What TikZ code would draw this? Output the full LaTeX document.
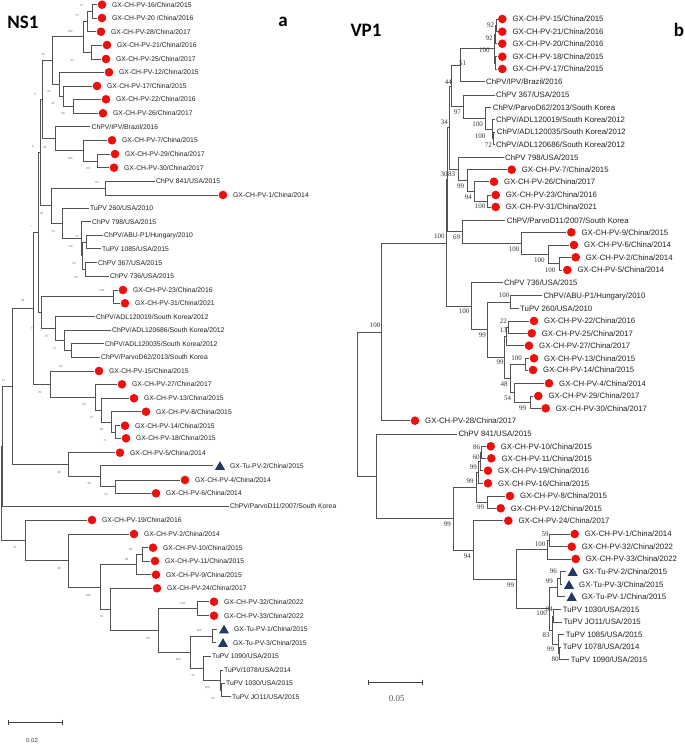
\documentclass[tikz,border=0pt]{standalone}
\usepackage{fontspec}
\newfontfamily\arialfont{Liberation Sans}
\newfontfamily\timesfont{Liberation Serif}
\newfontfamily\calibrifont{Carlito}
\usepackage{tikz}
\usetikzlibrary{shapes.geometric,arrows.meta}
\definecolor{isolred}{RGB}{237,14,14}
\definecolor{turkeyblue}{RGB}{31,56,100}

\begin{document}
\begin{tikzpicture}[
    x=1pt, y=-1pt,
    branch/.style={draw=black!68, line width=0.8pt},
    mark dot/.style={circle, fill=isolred, inner sep=0pt, minimum size=8.6pt},
    mark tri/.style={regular polygon, regular polygon sides=3, fill=turkeyblue,
        inner sep=0pt, minimum size=11.5pt, yshift=-1.2pt},
    panel/.style={font=\calibrifont\bfseries\fontsize{19}{22}\selectfont, inner sep=0pt},
    scale bar/.style={draw=black!75, line width=0.9pt, {Bar[width=5pt]}-{Bar[width=5pt]}},
]

    \useasboundingbox (0,0) rectangle (685,744);

    % a leaf: tip of the branch, its marker, its name
    \def\dotleaf#1#2#3{\path (#2) coordinate (#1) ++(5,0) node[mark dot] (#1m) {}
        ++(10,0) node[leaf text] (#1t) {#3};}
    \def\trileaf#1#2#3{\path (#2) coordinate (#1) ++(7,0) node[mark tri] (#1m) {}
        ++(10,0) node[leaf text] (#1t) {#3};}
    \def\plainleaf#1#2#3{\path (#2) coordinate (#1) ++(1.5,0) node[leaf text] (#1t) {#3};}

    % =============================================================
    % a: NS1 tree
    % =============================================================
    \begin{scope}[
        leaf text/.style={anchor=west, inner sep=0pt, text height=4.9pt, text depth=0pt,
            text=black!88, font=\arialfont\fontsize{6.8}{8}\selectfont},
        bootA/.style={inner sep=0pt, text=black!55, font=\arialfont\fontsize{3}{3.5}\selectfont},
    ]
        \node[panel] (ns1) at (23,22) {NS1};
        \node[panel] (pa) at (283,22) {a};

        \dotleaf{a1}{97,4.7}{GX-CH-PV-16/China/2015}
        \dotleaf{a2}{97,18}{GX-CH-PV-20 /China/2016}
        \dotleaf{a3}{96,31.7}{GX-CH-PV-28/China/2017}
        \dotleaf{a4}{102,45}{GX-CH-PV-21/China/2016}
        \dotleaf{a5}{101,59}{GX-CH-PV-25/China/2017}
        \dotleaf{a6}{104,72.3}{GX-CH-PV-12/China/2015}
        \dotleaf{a7}{92,86}{GX-CH-PV-17/China/2015}
        \dotleaf{a8}{101,99.3}{GX-CH-PV-22/China/2016}
        \dotleaf{a9}{98,113.3}{GX-CH-PV-26/China/2017}
        \plainleaf{a10}{90,126.7}{ChPV/IPV/Brazil/2016}
        \dotleaf{a11}{107,140.3}{GX-CH-PV-7/China/2015}
        \dotleaf{a12}{110,154}{GX-CH-PV-29/China/2017}
        \dotleaf{a13}{109,167.7}{GX-CH-PV-30/China/2017}
        \plainleaf{a14}{154.5,181}{ChPV 841/USA/2015}
        \dotleaf{a15}{218,195}{GX-CH-PV-1/China/2014}
        \plainleaf{a16}{88.5,208}{TuPV 260/USA/2010}
        \plainleaf{a17}{90.5,221.7}{ChPV 798/USA/2015}
        \plainleaf{a18}{102.5,235.3}{ChPV/ABU-P1/Hungary/2010}
        \plainleaf{a19}{100.5,248.7}{TuPV 1085/USA/2015}
        \plainleaf{a20}{96.5,262.7}{ChPV 367/USA/2015}
        \plainleaf{a21}{108.5,276}{ChPV 736/USA/2015}
        \dotleaf{a22}{118,290}{GX-CH-PV-23/China/2016}
        \dotleaf{a23}{120,303.3}{GX-CH-PV-31/China/2021}
        \plainleaf{a24}{94.5,316.7}{ChPV/ADL120019/South Korea/2012}
        \plainleaf{a25}{110.5,330}{ChPV/ADL120686/South Korea/2012}
        \plainleaf{a26}{103.5,343.7}{ChPV/ADL120035/South Korea/2012}
        \plainleaf{a27}{99.5,357.3}{ChPV/ParvoD62/2013/South Korea}
        \dotleaf{a28}{94,371}{GX-CH-PV-15/China/2015}
        \dotleaf{a29}{117,384.3}{GX-CH-PV-27/China/2017}
        \dotleaf{a30}{129,398.3}{GX-CH-PV-13/China/2015}
        \dotleaf{a31}{141,411.7}{GX-CH-PV-8/China/2015}
        \dotleaf{a32}{120,425.7}{GX-CH-PV-14/China/2015}
        \dotleaf{a33}{121,438.3}{GX-CH-PV-18/China/2015}
        \dotleaf{a34}{115,452.7}{GX-CH-PV-5/China/2014}
        \trileaf{a35}{213,465.7}{GX-Tu-PV-2/China/2015}
        \dotleaf{a36}{180,480}{GX-CH-PV-4/China/2014}
        \dotleaf{a37}{151,493.3}{GX-CH-PV-6/China/2014}
        \plainleaf{a38}{228.5,506}{ChPV/ParvoD11/2007/South Korea}
        \dotleaf{a39}{87,520}{GX-CH-PV-19/China/2016}
        \dotleaf{a40}{129,534}{GX-CH-PV-2/China/2014}
        \dotleaf{a41}{148,547.7}{GX-CH-PV-10/China/2015}
        \dotleaf{a42}{150,561}{GX-CH-PV-11/China/2015}
        \dotleaf{a43}{151,574.7}{GX-CH-PV-9/China/2015}
        \dotleaf{a44}{152,588.3}{GX-CH-PV-24/China/2017}
        \dotleaf{a45}{209,601.7}{GX-CH-PV-32/China/2022}
        \dotleaf{a46}{209,615.7}{GX-CH-PV-33/China/2022}
        \trileaf{a47}{217,629.3}{GX-Tu-PV-1/China/2015}
        \trileaf{a48}{216,642.7}{GX-Tu-PV-3/China/2015}
        \plainleaf{a49}{210.5,656}{TuPV 1090/USA/2015}
        \plainleaf{a50}{222.5,670}{TuPV/1078/USA/2014}
        \plainleaf{a51}{224.5,683.3}{TuPV 1030/USA/2015}
        \plainleaf{a52}{230.5,696.7}{TuPV JO11/USA/2015}

        % inner nodes of the tree
        \coordinate (p1) at (92,11.35);   \coordinate (p2) at (87,21.5);
        \coordinate (p3) at (91,52);      \coordinate (p4) at (83,36.8);
        \coordinate (p5) at (73,106.3);   \coordinate (p6) at (63,96.2);
        \coordinate (p7) at (59,84.2);    \coordinate (p8) at (52,60.5);
        \coordinate (p9) at (97,160.9);   \coordinate (p10) at (83,150.6);
        \coordinate (p11) at (55,138.7);  \coordinate (p12) at (42,99.6);
        \coordinate (p13) at (105,188);   \coordinate (p14) at (85.5,269.4);
        \coordinate (p15) at (86,242);    \coordinate (p16) at (82.7,255.7);
        \coordinate (p17) at (81,238.7);  \coordinate (p18) at (62,223.4);
        \coordinate (p19) at (51.7,205.7); \coordinate (p20) at (40,152.7);
        \coordinate (p21) at (113,296.7); \coordinate (p22) at (71,350.5);
        \coordinate (p23) at (64,340.3);  \coordinate (p24) at (55,328.5);
        \coordinate (p25) at (41,312.6);  \coordinate (p26) at (38.5,232.7);
        \coordinate (p27) at (115,432);   \coordinate (p28) at (111,421.9);
        \coordinate (p29) at (101,410.1); \coordinate (p30) at (95,397.2);
        \coordinate (p31) at (50,384.1);  \coordinate (p32) at (33,308.4);
        \coordinate (p33) at (115,486.7); \coordinate (p34) at (100,476.2);
        \coordinate (p35) at (68,464.5);  \coordinate (p36) at (12,386.5);
        \coordinate (p37) at (2.7,446.3); \coordinate (p38) at (142,554.4);
        \coordinate (p39) at (136,564.5); \coordinate (p40) at (197,608.7);
        \coordinate (p41) at (212,636);   \coordinate (p42) at (221.5,690);
        \coordinate (p43) at (220,680);   \coordinate (p44) at (203,668);
        \coordinate (p45) at (190,652);   \coordinate (p46) at (158,630.4);
        \coordinate (p47) at (110,609.4); \coordinate (p48) at (100,587);
        \coordinate (p49) at (68,560.5);  \coordinate (p50) at (25,540.3);
        \coordinate (p51) at (1.7,493.3);

        \draw[branch] (p1) |- (a1) (p1) |- (a2) (p2) |- (p1) (p2) |- (a3)
            (p3) |- (a4) (p3) |- (a5) (p4) |- (p2) (p4) |- (p3)
            (p5) |- (a8) (p5) |- (a9) (p6) |- (a7) (p6) |- (p5)
            (p7) |- (a6) (p7) |- (p6) (p8) |- (p4) (p8) |- (p7)
            (p9) |- (a12) (p9) |- (a13) (p10) |- (a11) (p10) |- (p9)
            (p11) |- (a10) (p11) |- (p10) (p12) |- (p8) (p12) |- (p11);
        \draw[branch] (p13) |- (a14) (p13) |- (a15) (p14) |- (a20) (p14) |- (a21)
            (p15) |- (a18) (p15) |- (a19) (p16) |- (p15) (p16) |- (p14)
            (p17) |- (a17) (p17) |- (p16) (p18) |- (a16) (p18) |- (p17)
            (p19) |- (p13) (p19) |- (p18) (p20) |- (p12) (p20) |- (p19);
        \draw[branch] (p21) |- (a22) (p21) |- (a23) (p22) |- (a26) (p22) |- (a27)
            (p23) |- (a25) (p23) |- (p22) (p24) |- (a24) (p24) |- (p23)
            (p25) |- (p21) (p25) |- (p24) (p26) |- (p20) (p26) |- (p25);
        \draw[branch] (p27) |- (a32) (p27) |- (a33) (p28) |- (a31) (p28) |- (p27)
            (p29) |- (a30) (p29) |- (p28) (p30) |- (a29) (p30) |- (p29)
            (p31) |- (a28) (p31) |- (p30) (p32) |- (p26) (p32) |- (p31)
            (p33) |- (a36) (p33) |- (a37) (p34) |- (a35) (p34) |- (p33)
            (p35) |- (a34) (p35) |- (p34) (p36) |- (p32) (p36) |- (p35)
            (p37) |- (p36) (p37) |- (a38);
        \draw[branch] (p38) |- (a41) (p38) |- (a42) (p39) |- (p38) (p39) |- (a43)
            (p40) |- (a45) (p40) |- (a46) (p41) |- (a47) (p41) |- (a48)
            (p42) |- (a51) (p42) |- (a52) (p43) |- (a50) (p43) |- (p42)
            (p44) |- (a49) (p44) |- (p43) (p45) |- (p41) (p45) |- (p44)
            (p46) |- (p40) (p46) |- (p45) (p47) |- (a44) (p47) |- (p46)
            (p48) |- (p39) (p48) |- (p47) (p49) |- (a40) (p49) |- (p48)
            (p50) |- (a39) (p50) |- (p49) (p51) |- (p37) (p51) |- (p50);

        % bootstrap values
        \node[bootA] (sa1) at (82,5) {97};      \node[bootA] (sa2) at (77,15) {75};
        \node[bootA] (sa3) at (70,31) {100};    \node[bootA] (sa4) at (72,60) {43};
        \node[bootA] (sa5) at (43,54) {30};     \node[bootA] (sa6) at (49,91) {25};
        \node[bootA] (sa7) at (53,103) {32};    \node[bootA] (sa8) at (63,113) {96};
        \node[bootA] (sa9) at (35,94) {5};      \node[bootA] (sa10) at (33,146.7) {6};
        \node[bootA] (sa11) at (45,147) {89};   \node[bootA] (sa12) at (70,158) {100};
        \node[bootA] (sa13) at (88,168) {99};   \node[bootA] (sa14) at (97,182) {63};
        \node[bootA] (sa15) at (41.7,213) {23}; \node[bootA] (sa16) at (53.3,231) {50};
        \node[bootA] (sa17) at (77.3,236.7) {47}; \node[bootA] (sa18) at (71,246) {62};
        \node[bootA] (sa19) at (74,263.3) {33}; \node[bootA] (sa20) at (76,277.3) {36};
        \node[bootA] (sa21) at (30.7,226.7) {7}; \node[bootA] (sa22) at (101.7,290.7) {100};
        \node[bootA] (sa23) at (32.3,328.3) {79}; \node[bootA] (sa24) at (46.7,336.7) {97};
        \node[bootA] (sa25) at (54.3,348.3) {71}; \node[bootA] (sa26) at (60.7,366.7) {64};
        \node[bootA] (sa27) at (22.7,300.7) {89}; \node[bootA] (sa28) at (40,392) {21};
        \node[bootA] (sa29) at (84.3,404) {96}; \node[bootA] (sa30) at (92,417) {67};
        \node[bootA] (sa31) at (101.7,429) {98}; \node[bootA] (sa32) at (105,440) {71};
        \node[bootA] (sa33) at (3.3,380) {74};  \node[bootA] (sa34) at (59.3,472.3) {99};
        \node[bootA] (sa35) at (89.3,483.3) {99}; \node[bootA] (sa36) at (106,494) {52};
        \node[bootA] (sa37) at (15,547.7) {97}; \node[bootA] (sa38) at (59.3,568.3) {99};
        \node[bootA] (sa39) at (130.7,549) {98}; \node[bootA] (sa40) at (126.7,559) {98};
        \node[bootA] (sa41) at (88.3,595) {100}; \node[bootA] (sa42) at (101.7,616.7) {55};
        \node[bootA] (sa43) at (182.7,603.3) {100}; \node[bootA] (sa44) at (148.3,638.3) {99};
        \node[bootA] (sa45) at (199.3,630) {100}; \node[bootA] (sa46) at (178.3,659.3) {100};
        \node[bootA] (sa47) at (193.3,675.7) {97}; \node[bootA] (sa48) at (207.3,687.7) {100};
        \node[bootA] (sa49) at (213.3,698.3) {81};

        % scale
        \coordinate (sbarA1) at (8,722);
        \coordinate (sbarA2) at (63,722);
        \draw[scale bar] (sbarA1) -- (sbarA2);
        \node[inner sep=0pt, text=black!75, font=\arialfont\fontsize{6}{7}\selectfont]
            (sbarAt) at (32,740) {0.02};
    \end{scope}

    % =============================================================
    % b: VP1 tree
    % =============================================================
    \begin{scope}[
        leaf text/.style={anchor=west, inner sep=0pt, text height=5.6pt, text depth=0pt,
            text=black!88, font=\arialfont\fontsize{7.8}{9}\selectfont},
        bootB/.style={inner sep=0pt, text=black!80, font=\timesfont\fontsize{7}{8}\selectfont},
    ]
        \node[panel] (vp1) at (366,30) {VP1};
        \node[panel] (pb) at (679,30) {b};

        \dotleaf{b1}{497.3,19}{GX-CH-PV-15/China/2015}
        \dotleaf{b2}{497.3,31.7}{GX-CH-PV-21/China/2016}
        \dotleaf{b3}{497.3,43.7}{GX-CH-PV-20/China/2016}
        \dotleaf{b4}{497.3,56.7}{GX-CH-PV-18/China/2015}
        \dotleaf{b5}{497.3,69}{GX-CH-PV-17/China/2015}
        \plainleaf{b6}{484.5,81.7}{ChPV/IPV/Brazil/2016}
        \plainleaf{b7}{494.5,95}{ChPV 367/USA/2015}
        \plainleaf{b8}{491.2,107.3}{ChPV/ParvoD62/2013/South Korea}
        \plainleaf{b9}{494.5,119.3}{ChPV/ADL120019/South Korea/2012}
        \plainleaf{b10}{495.2,132}{ChPV/ADL120035/South Korea/2012}
        \plainleaf{b11}{494.5,144.7}{ChPV/ADL120686/South Korea/2012}
        \plainleaf{b12}{503.5,157.7}{ChPV 798/USA/2015}
        \dotleaf{b13}{506.7,169.7}{GX-CH-PV-7/China/2015}
        \dotleaf{b14}{489,181.7}{GX-CH-PV-26/China/2017}
        \dotleaf{b15}{490.7,195}{GX-CH-PV-23/China/2016}
        \dotleaf{b16}{490.7,207}{GX-CH-PV-31/China/2021}
        \plainleaf{b17}{505.2,220.3}{ChPV/ParvoD11/2007/South Korea}
        \dotleaf{b18}{566.3,232.3}{GX-CH-PV-9/China/2015}
        \dotleaf{b19}{569,245}{GX-CH-PV-6/China/2014}
        \dotleaf{b20}{570.7,257.3}{GX-CH-PV-2/China/2014}
        \dotleaf{b21}{562.3,270}{GX-CH-PV-5/China/2014}
        \plainleaf{b22}{502.5,282.7}{ChPV 736/USA/2015}
        \plainleaf{b23}{541.8,295.7}{ChPV/ABU-P1/Hungary/2010}
        \plainleaf{b24}{518.5,308.3}{TuPV 260/USA/2010}
        \dotleaf{b25}{529,321}{GX-CH-PV-22/China/2016}
        \dotleaf{b26}{526.7,333.3}{GX-CH-PV-25/China/2017}
        \dotleaf{b27}{524,345.7}{GX-CH-PV-27/China/2017}
        \dotleaf{b28}{529,358.3}{GX-CH-PV-13/China/2015}
        \dotleaf{b29}{528,370}{GX-CH-PV-14/China/2015}
        \dotleaf{b30}{544,383.3}{GX-CH-PV-4/China/2014}
        \dotleaf{b31}{533.3,396}{GX-CH-PV-29/China/2017}
        \dotleaf{b32}{540.7,408.3}{GX-CH-PV-30/China/2017}
        \dotleaf{b33}{410,420.7}{GX-CH-PV-28/China/2017}
        \plainleaf{b34}{456.8,434}{ChPV 841/USA/2015}
        \dotleaf{b35}{485.7,446.3}{GX-CH-PV-10/China/2015}
        \dotleaf{b36}{486.3,458.3}{GX-CH-PV-11/China/2015}
        \dotleaf{b37}{483,470.7}{GX-CH-PV-19/China/2016}
        \dotleaf{b38}{483,483.3}{GX-CH-PV-16/China/2015}
        \dotleaf{b39}{505,496}{GX-CH-PV-8/China/2015}
        \dotleaf{b40}{495.7,508.3}{GX-CH-PV-12/China/2015}
        \dotleaf{b41}{503.3,520.7}{GX-CH-PV-24/China/2017}
        \dotleaf{b42}{569.7,534}{GX-CH-PV-1/China/2014}
        \dotleaf{b43}{566.7,546.7}{GX-CH-PV-32/China/2022}
        \dotleaf{b44}{570.7,559}{GX-CH-PV-33/China/2022}
        \trileaf{b45}{565.7,571.7}{GX-Tu-PV-2/China/2015}
        \trileaf{b46}{562,584.7}{GX-Tu-PV-3/China/2015}
        \trileaf{b47}{564.7,596.7}{GX-Tu-PV-1/China/2015}
        \plainleaf{b48}{561.2,609.7}{TuPV 1030/USA/2015}
        \plainleaf{b49}{561.8,622}{TuPV JO11/USA/2015}
        \plainleaf{b50}{564.2,634.3}{TuPV 1085/USA/2015}
        \plainleaf{b51}{561.2,647}{TuPV 1078/USA/2014}
        \plainleaf{b52}{569.2,659.7}{TuPV 1090/USA/2015}

        % inner nodes of the tree
        \coordinate (q1) at (496.5,25.4);  \coordinate (q2) at (495.8,34.5);
        \coordinate (q3) at (495.8,62.9);  \coordinate (q4) at (494.5,48.7);
        \coordinate (q5) at (460,65.2);    \coordinate (q6) at (493.5,138.4);
        \coordinate (q7) at (492.5,128.9); \coordinate (q8) at (485.7,118.1);
        \coordinate (q9) at (463.3,106.6); \coordinate (q10) at (451.7,85.9);
        \coordinate (q11) at (487.7,201);  \coordinate (q12) at (474.3,191.4);
        \coordinate (q13) at (467.7,180.5); \coordinate (q14) at (458.3,169.1);
        \coordinate (q15) at (449,127.5);  \coordinate (q16) at (559,263.7);
        \coordinate (q17) at (548.3,254.3); \coordinate (q18) at (521.7,243.3);
        \coordinate (q19) at (462.7,231.8); \coordinate (q20) at (447.5,179.7);
        \coordinate (q21) at (510.7,302);  \coordinate (q22) at (508.3,327.2);
        \coordinate (q23) at (506.5,336.4); \coordinate (q24) at (525,364.2);
        \coordinate (q25) at (530,402.2);  \coordinate (q26) at (514.3,392.7);
        \coordinate (q27) at (510,378.5);  \coordinate (q28) at (504.5,357.4);
        \coordinate (q29) at (487.7,329.7); \coordinate (q30) at (471.7,306.2);
        \coordinate (q31) at (446,243);    \coordinate (q32) at (381.7,331.9);
        \coordinate (q33) at (481,452.3);  \coordinate (q34) at (480,461.5);
        \coordinate (q35) at (478.5,472.4); \coordinate (q36) at (487.7,502.2);
        \coordinate (q37) at (476,487.3);  \coordinate (q38) at (549.3,540.4);
        \coordinate (q39) at (547.3,549.7); \coordinate (q40) at (560,578.2);
        \coordinate (q41) at (557.3,587.5); \coordinate (q42) at (553.3,615.9);
        \coordinate (q43) at (559.5,653.4); \coordinate (q44) at (558,643.9);
        \coordinate (q45) at (552.3,629.9); \coordinate (q46) at (549,608.7);
        \coordinate (q47) at (516.5,579.2); \coordinate (q48) at (473.3,550);
        \coordinate (q49) at (453.3,518.7); \coordinate (q50) at (376,476.3);
        \coordinate (q51) at (357.3,404.1);

        \draw[branch] (q1) |- (b1) (q1) |- (b2) (q2) |- (q1) (q2) |- (b3)
            (q3) |- (b4) (q3) |- (b5) (q4) |- (q2) (q4) |- (q3)
            (q5) |- (q4) (q5) |- (b6) (q6) |- (b10) (q6) |- (b11)
            (q7) |- (b9) (q7) |- (q6) (q8) |- (b8) (q8) |- (q7)
            (q9) |- (b7) (q9) |- (q8) (q10) |- (q5) (q10) |- (q9);
        \draw[branch] (q11) |- (b15) (q11) |- (b16) (q12) |- (b14) (q12) |- (q11)
            (q13) |- (b13) (q13) |- (q12) (q14) |- (b12) (q14) |- (q13)
            (q15) |- (q10) (q15) |- (q14);
        \draw[branch] (q16) |- (b20) (q16) |- (b21) (q17) |- (b19) (q17) |- (q16)
            (q18) |- (b18) (q18) |- (q17) (q19) |- (b17) (q19) |- (q18)
            (q20) |- (q15) (q20) |- (q19);
        \draw[branch] (q21) |- (b23) (q21) |- (b24) (q22) |- (b25) (q22) |- (b26)
            (q23) |- (q22) (q23) |- (b27) (q24) |- (b28) (q24) |- (b29)
            (q25) |- (b31) (q25) |- (b32) (q26) |- (b30) (q26) |- (q25)
            (q27) |- (q24) (q27) |- (q26) (q28) |- (q23) (q28) |- (q27)
            (q29) |- (q21) (q29) |- (q28) (q30) |- (b22) (q30) |- (q29)
            (q31) |- (q20) (q31) |- (q30) (q32) |- (q31) (q32) |- (b33);
        \draw[branch] (q33) |- (b35) (q33) |- (b36) (q34) |- (q33) (q34) |- (b37)
            (q35) |- (q34) (q35) |- (b38) (q36) |- (b39) (q36) |- (b40)
            (q37) |- (q35) (q37) |- (q36) (q38) |- (b42) (q38) |- (b43)
            (q39) |- (q38) (q39) |- (b44) (q40) |- (b45) (q40) |- (b46)
            (q41) |- (q40) (q41) |- (b47) (q42) |- (b48) (q42) |- (b49)
            (q43) |- (b51) (q43) |- (b52) (q44) |- (b50) (q44) |- (q43)
            (q45) |- (q42) (q45) |- (q44) (q46) |- (q41) (q46) |- (q45)
            (q47) |- (q39) (q47) |- (q46) (q48) |- (b41) (q48) |- (q47)
            (q49) |- (q37) (q49) |- (q48) (q50) |- (b34) (q50) |- (q49)
            (q51) |- (q32) (q51) |- (q50);

        % bootstrap values
        \node[bootB] (sb1) at (490.7,25) {92};    \node[bootB] (sb2) at (489,38.3) {92};
        \node[bootB] (sb3) at (484.3,50.7) {100}; \node[bootB] (sb4) at (462.7,63.3) {51};
        \node[bootB] (sb5) at (448.3,81.7) {44};  \node[bootB] (sb6) at (457.3,112.3) {97};
        \node[bootB] (sb7) at (444.3,122.7) {34}; \node[bootB] (sb8) at (477.7,124) {100};
        \node[bootB] (sb9) at (480,136.7) {100};  \node[bootB] (sb10) at (488.3,145) {72};
        \node[bootB] (sb11) at (444.2,174.3) {30}; \node[bootB] (sb12) at (451.5,174.3) {83};
        \node[bootB] (sb13) at (460.7,186.7) {99}; \node[bootB] (sb14) at (468.3,197.7) {94};
        \node[bootB] (sb15) at (480,206.7) {100}; \node[bootB] (sb16) at (439.3,236.7) {100};
        \node[bootB] (sb17) at (456.7,237.7) {69}; \node[bootB] (sb18) at (514,249.3) {100};
        \node[bootB] (sb19) at (539.3,260.7) {100}; \node[bootB] (sb20) at (550,270) {100};
        \node[bootB] (sb21) at (504,295.7) {100}; \node[bootB] (sb22) at (464,311.7) {100};
        \node[bootB] (sb23) at (503.3,321) {22};  \node[bootB] (sb24) at (503.3,330) {13};
        \node[bootB] (sb25) at (482.3,335) {99};  \node[bootB] (sb26) at (516.7,358.3) {100};
        \node[bootB] (sb27) at (500,362.7) {99};  \node[bootB] (sb28) at (504,384.3) {48};
        \node[bootB] (sb29) at (507.7,398.3) {54}; \node[bootB] (sb30) at (522.7,408.3) {99};
        \node[bootB] (sb31) at (375,325) {100};   \node[bootB] (sb32) at (476.7,447.3) {86};
        \node[bootB] (sb33) at (476,456.7) {60};  \node[bootB] (sb34) at (473.3,467.3) {99};
        \node[bootB] (sb35) at (470,481.7) {99};  \node[bootB] (sb36) at (480.7,507.7) {99};
        \node[bootB] (sb37) at (447.3,524.3) {99}; \node[bootB] (sb38) at (467.3,556.7) {94};
        \node[bootB] (sb39) at (545,534.3) {59};  \node[bootB] (sb40) at (540,544.3) {100};
        \node[bootB] (sb41) at (510.7,585) {99};  \node[bootB] (sb42) at (553.3,571.7) {96};
        \node[bootB] (sb43) at (549.3,581.5) {99}; \node[bootB] (sb44) at (549.3,609.3) {84};
        \node[bootB] (sb45) at (541.7,613.3) {100}; \node[bootB] (sb46) at (546,635) {83};
        \node[bootB] (sb47) at (550.7,649.3) {99}; \node[bootB] (sb48) at (555,659) {80};

        % scale
        \coordinate (sbarB1) at (368,682);
        \coordinate (sbarB2) at (423,682);
        \draw[scale bar] (sbarB1) -- (sbarB2);
        \node[inner sep=0pt, text=black!65, font=\timesfont\fontsize{9}{10}\selectfont]
            (sbarBt) at (396.7,699) {0.05};
    \end{scope}

\end{tikzpicture}
\end{document}
